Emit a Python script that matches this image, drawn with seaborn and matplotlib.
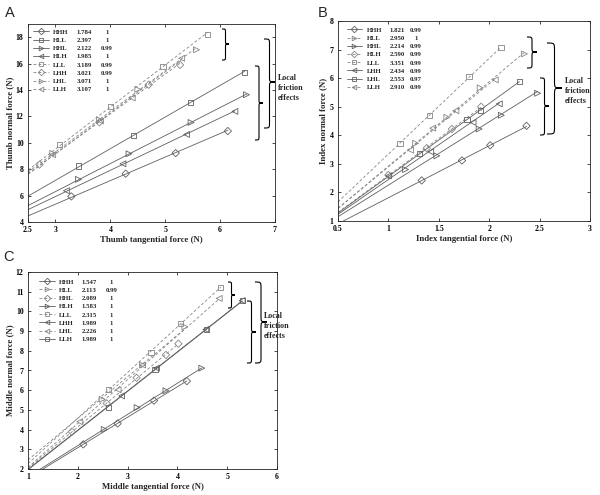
import numpy as np
import matplotlib
matplotlib.use("Agg")
import matplotlib.pyplot as plt
import seaborn as sns
from matplotlib.lines import Line2D
from matplotlib.path import Path
from matplotlib.patches import PathPatch
from matplotlib.transforms import IdentityTransform

# ---------------- data ----------------
conditions = ["HHH", "HLL", "HHL", "HLH", "LLL", "LHH", "LHL", "LLH"]

# Panel A (thumb)
A_slope = [1.784, 2.397, 2.122, 1.985, 3.189, 3.021, 3.071, 3.107]
A_r2 = ["1", "1", "0.99", "1", "0.99", "0.99", "1", "1"]
A_marker = ["D", "s", ">", "<", "s", "D", ">", "<"]
A_dashed = [False, False, False, False, True, True, True, True]
A_tangential = [
    [3.29, 4.28, 5.19, 6.14],
    [3.42, 4.42, 5.46, 6.45],
    [3.42, 4.34, 5.47, 6.48],
    [3.20, 4.23, 5.39, 6.27],
    [3.08, 4.00, 4.96, 5.77],
    [2.71, 3.80, 4.70, 5.27],
    [2.95, 3.80, 4.50, 5.57],
    [2.95, 3.82, 4.40, 5.30],
]
A_normal = [
    [5.94, 7.66, 9.22, 10.89],
    [8.24, 10.58, 13.03, 15.35],
    [7.23, 9.17, 11.54, 13.64],
    [6.37, 8.41, 10.63, 12.38],
    [9.88, 12.78, 15.75, 18.20],
    [8.35, 11.55, 14.40, 15.90],
    [9.20, 11.75, 14.05, 17.05],
    [9.10, 11.65, 13.40, 16.40],
]
A_xticks = [2.5, 3, 4, 5, 6, 7]
A_xticklabels = ["2.5", "3", "4", "5", "6", "7"]
A_yticks = [4, 6, 8, 10, 12, 14, 16, 18]

# Panel B (index)
B_slope = [1.821, 2.950, 2.214, 2.590, 3.351, 2.434, 2.553, 2.910]
B_r2 = ["0.99", "1", "0.99", "0.99", "0.99", "0.99", "0.97", "0.99"]
B_marker = ["D", ">", ">", "D", "s", "<", "s", "<"]
B_dashed = [False, True, False, True, True, False, False, True]
B_tangential = [
    [1.33, 1.73, 2.01, 2.37],
    [1.27, 1.58, 1.91, 2.35],
    [1.17, 1.48, 1.90, 2.12, 2.48],
    [1.00, 1.38, 1.63, 1.92],
    [1.115, 1.406, 1.80, 2.117],
    [1.00, 1.42, 1.84, 2.10],
    [1.31, 1.78, 1.91, 2.30],
    [1.22, 1.44, 1.67, 2.06],
]
B_normal = [
    [2.42, 3.12, 3.65, 4.33],
    [3.72, 4.63, 5.66, 6.85],
    [2.80, 3.28, 4.22, 4.70, 5.47],
    [2.61, 3.55, 4.22, 5.00],
    [3.72, 4.69, 6.05, 7.08],
    [2.58, 3.42, 4.45, 5.10],
    [3.35, 4.56, 4.87, 5.88],
    [3.48, 4.25, 4.86, 5.94],
]
B_xticks = [0.5, 1, 1.5, 2, 2.5, 3]
B_xticklabels = ["0.5", "1", "1.5", "2", "2.5", "3"]
B_yticks = [1, 2, 3, 4, 5, 6, 7, 8]

# Panel C (middle)
C_slope = [1.547, 2.113, 2.089, 1.583, 2.315, 1.989, 2.226, 1.989]
C_r2 = ["1", "0.99", "1", "1", "1", "1", "1", "1"]
C_marker = ["D", ">", "D", ">", "s", "<", "<", "s"]
C_dashed = [False, True, True, False, True, False, True, False]
C_tangential = [
    [2.11, 2.80, 3.53, 4.19],
    [2.49, 3.30, 4.15],
    [1.88, 2.58, 3.18, 3.77, 4.02],
    [2.53, 3.19, 3.77, 4.49],
    [2.61, 3.47, 4.07, 4.87],
    [2.88, 3.58, 4.57, 5.30],
    [2.04, 2.81, 3.30, 4.84],
    [2.61, 3.55, 4.59, 5.30],
]
C_normal = [
    [3.25, 4.31, 5.47, 6.46],
    [5.54, 7.28, 9.22],
    [3.89, 5.33, 6.63, 7.79, 8.36],
    [4.01, 5.12, 5.97, 7.12],
    [6.05, 7.92, 9.40, 11.22],
    [5.71, 7.12, 9.08, 10.55],
    [4.40, 6.02, 7.28, 10.66],
    [5.13, 7.05, 9.09, 10.55],
]
C_xticks = [1, 2, 3, 4, 5, 6]
C_xticklabels = ["1", "2", "3", "4", "5", "6"]
C_yticks = [2, 3, 4, 5, 6, 7, 8, 9, 10, 11, 12]

# ---------------- style ----------------
sns.set_theme(style="ticks")
plt.rcParams["font.family"] = ["Liberation Serif", "DejaVu Serif"]
plt.rcParams["font.weight"] = "bold"

W, H = 600, 495
fig = plt.figure(figsize=(6.0, 4.95), dpi=100)
fig.patch.set_facecolor("white")

SOLID = "#5f5f5f"
DASH = "#858585"
DASHPAT = (0, (3.5, 2.5))
LEGSIZE = 4.9


def ax_rect(l, r, t, b):
    return [l / W, 1 - b / H, (r - l) / W, (b - t) / H]


def draw_panel(ax, xs, ys, slopes, markers, dashed, xlim, ylim, xticks, xtl,
               yticks, xlabel, ylabel):
    for i in range(len(xs)):
        x = np.array(xs[i], float)
        y = np.array(ys[i], float)
        b = y.mean() - slopes[i] * x.mean()
        lx = np.array([xlim[0], x.max()])
        ly = b + slopes[i] * lx
        col = DASH if dashed[i] else SOLID
        ls = DASHPAT if dashed[i] else "-"
        sns.lineplot(x=lx, y=ly, ax=ax, color=col, linewidth=0.6,
                     linestyle=ls, legend=False, sort=False)
        ms = 14 if markers[i] in ("s", "D") else 18
        sns.scatterplot(x=x, y=y, ax=ax, marker=markers[i], s=ms,
                        facecolor="none", edgecolor=col, linewidth=0.6,
                        legend=False, zorder=3)
    ax.set_xlim(*xlim)
    ax.set_ylim(*ylim)
    ax.set_xticks(xticks)
    ax.set_xticklabels(xtl)
    ax.set_yticks(yticks)
    ax.set_yticklabels([str(v) for v in yticks])
    ax.tick_params(direction="in", length=2, width=0.5, top=True, right=True,
                   labelsize=5.6, colors="black")
    ax.tick_params(axis="x", pad=2.8)
    ax.tick_params(axis="y", pad=3.2)
    for sp in ax.spines.values():
        sp.set_linewidth(0.6)
        sp.set_color("#222222")
        sp.set_visible(True)
    ax.set_xlabel(xlabel, fontsize=6.3, fontweight="bold", labelpad=1.5)
    ax.set_ylabel(ylabel, fontsize=6.3, fontweight="bold", labelpad=1.5)
    ax.set_facecolor("white")
    ax.grid(False)


def add_legend(ax, markers, dashed, bbox):
    handles = []
    for i in range(len(conditions)):
        col = DASH if dashed[i] else SOLID
        handles.append(Line2D([0], [0], color=col, lw=0.6,
                              linestyle=DASHPAT if dashed[i] else "-",
                              marker=markers[i], markersize=3.3,
                              markerfacecolor="none", markeredgecolor=col,
                              markeredgewidth=0.6))
    leg = ax.legend(handles, conditions, loc="upper left", bbox_to_anchor=bbox,
                    frameon=False, borderpad=0, borderaxespad=0,
                    handlelength=2.3, handletextpad=0.7, labelspacing=0.36,
                    prop={"family": "Liberation Serif", "weight": "bold",
                          "size": LEGSIZE})
    return leg


def brace(x0, x1, top, bot, tip=None):
    # pixel coords (y downward) -> figure fraction
    if tip is None:
        tip = (top + bot) / 2
    xm = (x0 + x1) / 2
    r = (x1 - x0) / 2
    pts = [
        (x0, top), (xm, top), (xm, top), (xm, top + r),
        (xm, tip - r),
        (xm, tip), (xm, tip), (x1, tip),
        (xm, tip), (xm, tip), (xm, tip + r),
        (xm, bot - r),
        (xm, bot), (xm, bot), (x0, bot),
    ]
    codes = [Path.MOVETO, Path.CURVE4, Path.CURVE4, Path.CURVE4,
             Path.LINETO,
             Path.CURVE4, Path.CURVE4, Path.CURVE4,
             Path.CURVE4, Path.CURVE4, Path.CURVE4,
             Path.LINETO,
             Path.CURVE4, Path.CURVE4, Path.CURVE4]
    verts = [(px / W, 1 - py / H) for px, py in pts]
    fig.add_artist(PathPatch(Path(verts, codes), transform=fig.transFigure,
                             fill=False, lw=0.8, edgecolor="black"))


axA = fig.add_axes(ax_rect(28, 275, 24, 222))
axB = fig.add_axes(ax_rect(338, 590, 21, 221))
axC = fig.add_axes(ax_rect(28, 277, 272, 469))

draw_panel(axA, A_tangential, A_normal, A_slope, A_marker, A_dashed,
           (2.5, 7), (4, 19), A_xticks, A_xticklabels, A_yticks,
           "Thumb tangential force (N)", "Thumb normal force (N)")
draw_panel(axB, B_tangential, B_normal, B_slope, B_marker, B_dashed,
           (0.5, 3), (1, 8), B_xticks, B_xticklabels, B_yticks,
           "Index tangential force (N)", "Index normal force (N)")
draw_panel(axC, C_tangential, C_normal, C_slope, C_marker, C_dashed,
           (1, 6), (2, 12), C_xticks, C_xticklabels, C_yticks,
           "Middle tangential force (N)", "Middle normal force (N)")

legA = add_legend(axA, A_marker, A_dashed, (0.02, 0.975))
legB = add_legend(axB, B_marker, B_dashed, (0.034, 0.97))
legC = add_legend(axC, C_marker, C_dashed, (0.044, 0.965))

# braces + annotation
brace(222, 229, 29, 60, 44)
brace(264, 275, 39, 128, 82)
brace(255, 263, 66, 140, 103)
brace(527, 537, 37, 68, 52)
brace(547, 562, 43, 134, 88)
brace(540, 549, 78, 135, 106)
brace(228, 235, 282, 308, 295)
brace(255, 267, 282, 363, 322)
brace(247, 256, 301, 363, 332)

txt_kw = dict(fontsize=5.8, fontweight="bold", ha="left", va="center",
              linespacing=1.3, family="Liberation Serif")
fig.text(278 / W, 1 - 88 / H, "Local\nfriction\neffects", **txt_kw)
fig.text(565 / W, 1 - 91 / H, "Local\nfriction\neffects", **txt_kw)
fig.text(264 / W, 1 - 326 / H, "Local\nfriction\neffects", **txt_kw)

for lab, px, py in [("A", 5, 17), ("B", 318, 17), ("C", 3, 261)]:
    fig.text(px / W, 1 - py / H, lab, fontsize=10.5, family="Liberation Sans",
             fontweight="normal", ha="left", va="baseline")

# slope / r^2 columns aligned to the legend rows
fig.canvas.draw()
rend = fig.canvas.get_renderer()
for leg, slopes, r2s, d1, d2 in [(legA, A_slope, A_r2, 23.3, 53.8),
                                 (legB, B_slope, B_r2, 22.3, 49.0),
                                 (legC, C_slope, C_r2, 22.3, 52.3)]:
    for t, s, r in zip(leg.get_texts(), slopes, r2s):
        bb = t.get_window_extent(rend)
        kw = dict(fontsize=LEGSIZE, fontweight="bold",
                  family="Liberation Serif",
                  va="bottom", transform=IdentityTransform())
        fig.text(bb.x0 + d1, bb.y0, f"{s:.3f}", ha="left", **kw)
        fig.text(bb.x0 + d2, bb.y0, r, ha="center", **kw)

fig.savefig("out.png", dpi=100, facecolor="white")
